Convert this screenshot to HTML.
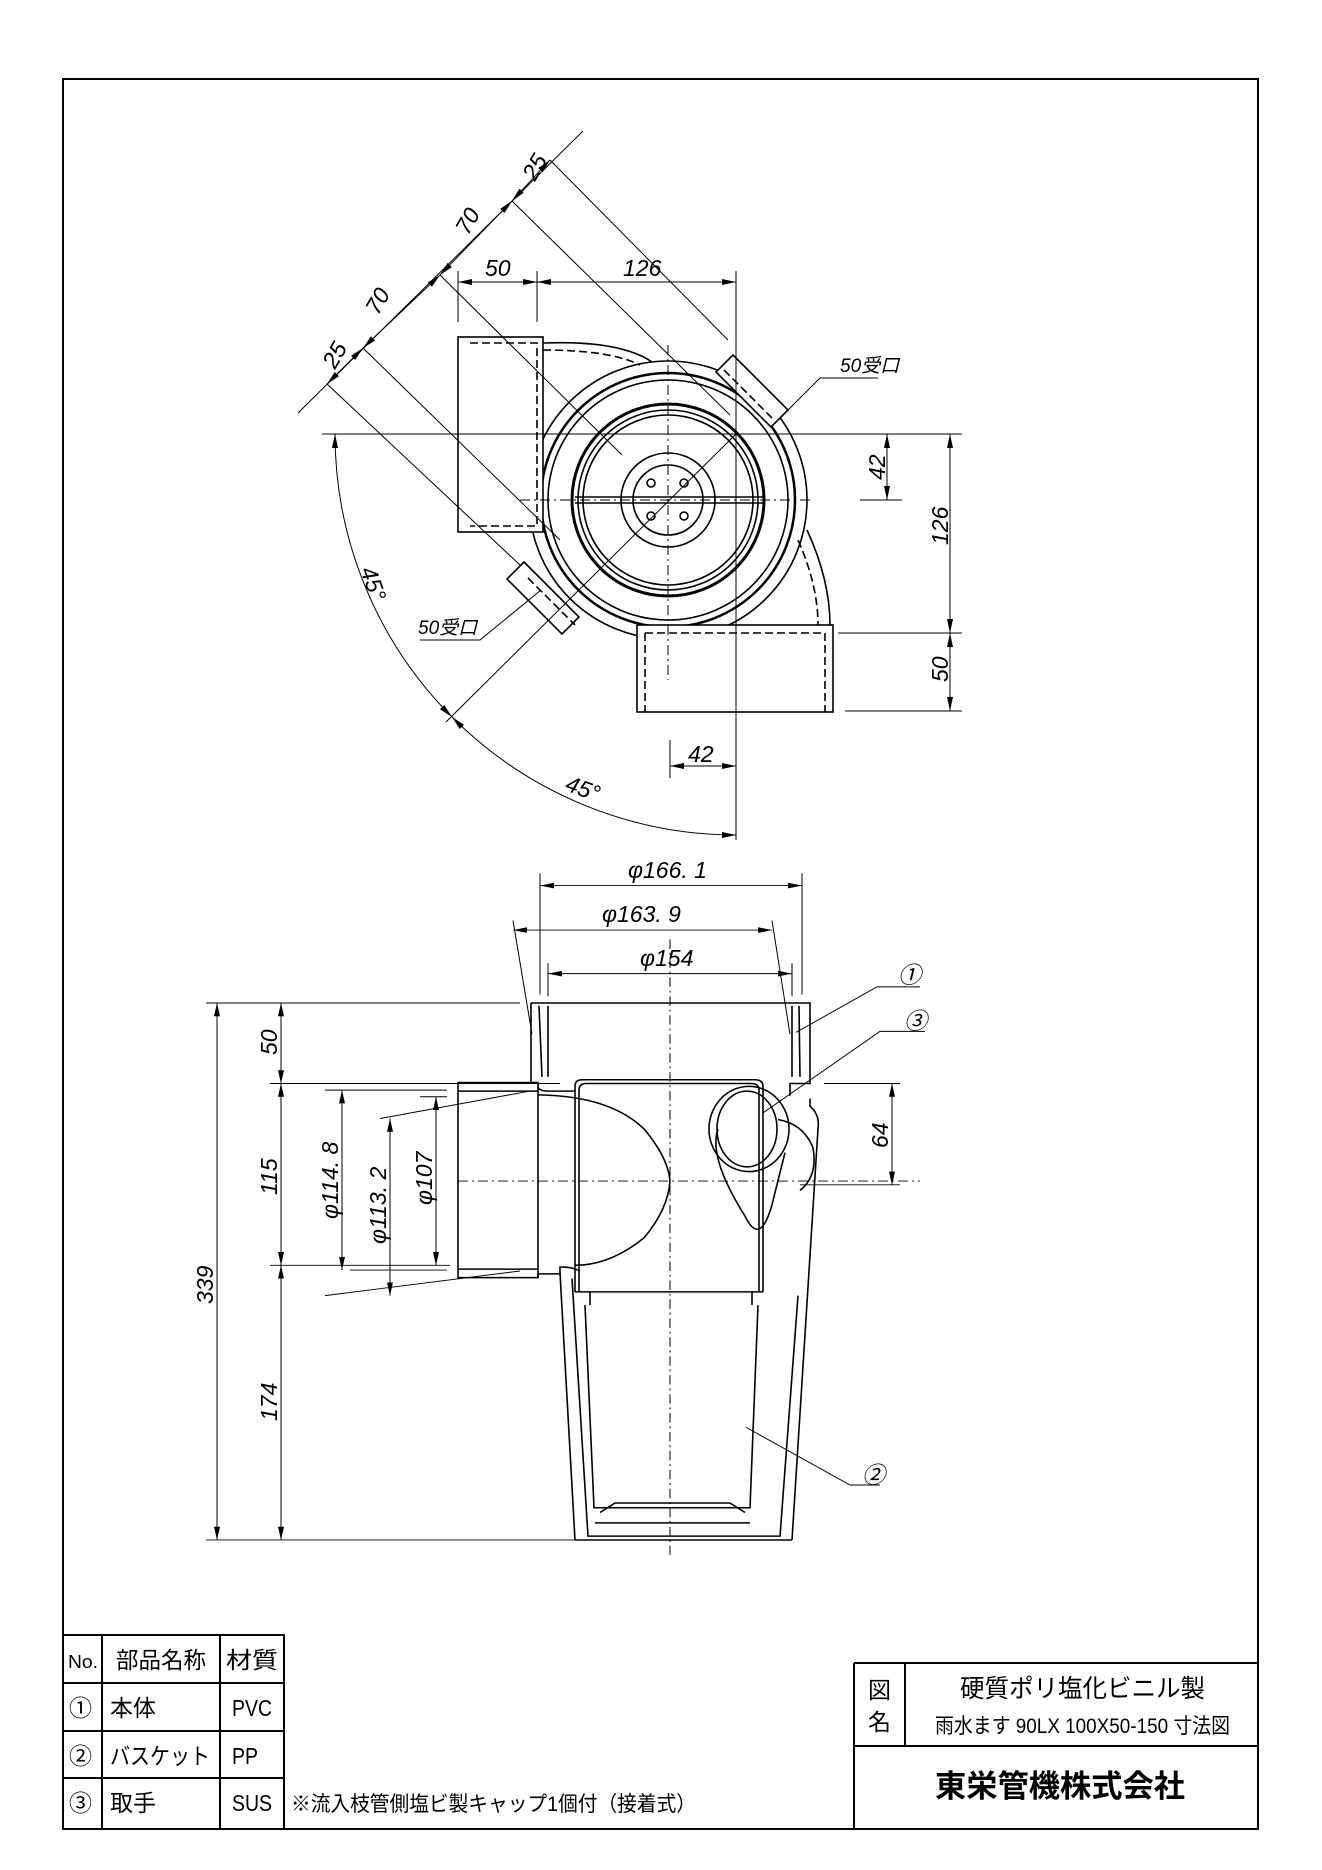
<!DOCTYPE html>
<html><head><meta charset="utf-8"><style>
html,body{margin:0;padding:0;background:#fff}
svg{display:block}
text{font-family:"Liberation Sans","Noto Sans CJK JP",sans-serif;fill:#000}
.d{font-style:italic;font-size:23px}
.t{font-size:23px}
</style></head><body>
<svg width="1322" height="1870" viewBox="0 0 1322 1870" xmlns="http://www.w3.org/2000/svg">
<defs>
<marker id="a" viewBox="0 0 14 6" refX="14" refY="3" markerWidth="14" markerHeight="6" orient="auto-start-reverse" markerUnits="userSpaceOnUse"><path d="M0,0L14,3L0,6z" fill="#000"/></marker>
</defs>
<g fill="none" stroke="#000">
<rect x="63" y="79" width="1195" height="1750" stroke-width="2"/>
<g stroke-width="2">
<path d="M63,1635H284V1829M102,1635V1829M220,1635V1829M63,1683H284M63,1731H284M63,1778H284"/>
<path d="M854,1663H1258M854,1663V1829M905,1663V1746M854,1746H1258"/>
</g>
<!-- ===== plan view ===== -->
<g stroke-width="1.6">
<circle cx="668" cy="500" r="139"/>
<circle cx="668" cy="500" r="127" stroke-width="2.5"/>
<circle cx="668" cy="500" r="120"/>
<circle cx="668" cy="500" r="96" stroke-width="3"/>
<circle cx="668" cy="500" r="90"/>
<circle cx="668" cy="500" r="85"/>
<circle cx="668" cy="500" r="47"/>
<circle cx="668" cy="500" r="35"/>
<circle cx="651" cy="483" r="4"/><circle cx="684" cy="483" r="4"/>
<circle cx="651" cy="516" r="4"/><circle cx="684" cy="516" r="4"/>
<path d="M575,497H763M575,503H763" stroke-width="1.5"/>
<rect x="458" y="337" width="85" height="195" fill="#fff"/>
<path d="M470,343H537V526H470" stroke-dasharray="8,4"/>
<path d="M543,343Q620,340 652,362" />
<path d="M543,350Q610,350 640,365" stroke-dasharray="8,4"/>
<rect x="637" y="625" width="196" height="87" fill="#fff"/>
<path d="M645,633V712M825,633V712M645,633H825" stroke-dasharray="8,4"/>
<path d="M807,530Q830,580 830,625"/>
<path d="M798,540Q818,585 818,625" stroke-dasharray="8,4"/>
<path d="M733,355L788,410L771,427L716,372z" fill="#fff"/>
<path d="M724,370L774,420" stroke-dasharray="8,4"/>
<path d="M524,562L579,617L562,634L507,579z" fill="#fff"/>
<path d="M528,578L575,625" stroke-dasharray="8,4"/>
</g>
<g stroke-width="1">
<path d="M668,345V680M520,500H810" stroke-dasharray="10,4,2,4"/>
<path d="M322,434H962M736,271V840M838,633H962M845,711H962M670,740V778"/>
<path d="M458,271V322M537,271V322"/>
<path d="M458,282H537" marker-start="url(#a)" marker-end="url(#a)"/>
<path d="M537,282H736" marker-start="url(#a)" marker-end="url(#a)"/>
<path d="M887,434V500" marker-start="url(#a)" marker-end="url(#a)"/>
<path d="M860,500H902"/>
<path d="M950,434V633" marker-start="url(#a)" marker-end="url(#a)"/>
<path d="M950,633V711" marker-start="url(#a)" marker-end="url(#a)"/>
<path d="M670,766H736" marker-start="url(#a)" marker-end="url(#a)"/>
<path d="M298,413L583,131"/>
<path d="M327,384L363,348" marker-start="url(#a)" marker-end="url(#a)"/>
<path d="M363,348L440,275" marker-start="url(#a)" marker-end="url(#a)"/>
<path d="M440,275L512,201" marker-start="url(#a)" marker-end="url(#a)"/>
<path d="M512,201L550,160" marker-start="url(#a)" marker-end="url(#a)"/>
<path d="M327,384L520,565M363,348L560,540M440,275L622,455M512,201L730,415M550,160L728,340"/>
<path d="M736,434L446,722"/>
<path d="M335,434A401,401 0 0,0 452,717" marker-start="url(#a)" marker-end="url(#a)"/>
<path d="M452,717A401,401 0 0,0 736,835" marker-start="url(#a)" marker-end="url(#a)"/>
<path d="M788,410L820,378H878M541,590L480,640H420"/>
</g>
<!-- ===== elevation ===== -->
<g transform="translate(0,1003) scale(1,0.947) translate(0,-1007)">
<g stroke-width="1.6">
<path d="M531,1007H810V1092H790V1105M531,1007V1092H538"/>
<path d="M538,1092V1096Q540,1100 548,1100H575"/>
<path d="M539,1010L542,1085M548,1010V1085M792,1010V1085M799,1010L800,1085"/>
<rect x="458" y="1091" width="80" height="206" fill="#fff"/>
<path d="M458,1100H525L538,1100M458,1288H538"/>
<path d="M538,1297V1293H560V1285M560,1286Q570,1285 580,1290"/>
<path d="M538,1104Q610,1105 644,1140Q668,1170 670,1195Q668,1225 644,1255Q610,1284 575,1284"/>
<path d="M560,1292L575,1574M810,1108V1116Q820,1125 818,1140L792,1574M575,1574H792"/>
<path d="M572,1298L588,1570H780L798,1316"/>
<path d="M575,1312V1095Q575,1088 582,1088H755Q763,1088 763,1095V1312"/>
<path d="M579,1312V1099Q579,1092 586,1092H751Q759,1092 759,1099V1312"/>
<path d="M575,1312H763M585,1326L594,1540H750L758,1326M590,1326V1312M752,1326V1312"/>
<path d="M600,1545L615,1535H730L745,1545M595,1556H750"/>
<ellipse cx="749" cy="1140" rx="40" ry="45"/>
<ellipse cx="747" cy="1140" rx="30" ry="40"/>
<path d="M778,1130Q804,1135 813,1160Q818,1190 800,1205"/>
<path d="M718,1140Q708,1170 745,1232Q760,1265 772,1220L785,1165"/>
</g>
<g stroke-width="1">
<path d="M670,940V1590M458,1195H920" stroke-dasharray="10,4,2,4"/>
<path d="M206,1007H520M270,1092H560M270,1284H450M325,1099H447M350,1289H447M420,1106H447M325,1316L520,1290M380,1129L530,1100M824,1092H900M800,1199H900M206,1574H575"/>
<path d="M217,1007V1574" marker-start="url(#a)" marker-end="url(#a)"/>
<path d="M281,1007V1092" marker-start="url(#a)" marker-end="url(#a)"/>
<path d="M281,1092V1284" marker-start="url(#a)" marker-end="url(#a)"/>
<path d="M281,1284V1574" marker-start="url(#a)" marker-end="url(#a)"/>
<path d="M342,1099V1289" marker-start="url(#a)" marker-end="url(#a)"/>
<path d="M390,1129V1316" marker-start="url(#a)" marker-end="url(#a)"/>
<path d="M436,1106V1284" marker-start="url(#a)" marker-end="url(#a)"/>
<path d="M892,1092V1199" marker-start="url(#a)" marker-end="url(#a)"/>
<path d="M540,870V998M802,870V998M513,920L532,1040M772,920L790,1040M548,965V1000M792,965V1000"/>
<path d="M540,883H802" marker-start="url(#a)" marker-end="url(#a)"/>
<path d="M513,930H772" marker-start="url(#a)" marker-end="url(#a)"/>
<path d="M548,976H792" marker-start="url(#a)" marker-end="url(#a)"/>
<path d="M796,1038L877,990H920M763,1123L880,1037H925M746,1455L850,1516H880"/>
</g>
</g>
</g>
<!-- plan dims text -->
<text class="d" x="485" y="276">50</text>
<text class="d" x="623" y="276">126</text>
<text class="d" transform="translate(378,316) rotate(-60)">70</text>
<text class="d" transform="translate(468,236) rotate(-60)">70</text>
<text class="d" transform="translate(335,370) rotate(-60)">25</text>
<text class="d" transform="translate(535,182) rotate(-60)">25</text>
<text class="d" transform="translate(885,480) rotate(-90)">42</text>
<text class="d" transform="translate(948,545) rotate(-90)">126</text>
<text class="d" transform="translate(948,682) rotate(-90)">50</text>
<text class="d" x="688" y="762">42</text>
<text class="d" transform="translate(360,570) rotate(70)">45°</text>
<text class="d" transform="translate(564,790) rotate(20)">45°</text>
<text class="d" style="font-size:19px" x="840" y="372">50受口</text>
<text class="d" style="font-size:19px" x="418" y="634">50受口</text>
<!-- elevation text -->
<text class="d" x="628" y="878">φ166. 1</text>
<text class="d" x="602" y="922">φ163. 9</text>
<text class="d" x="640" y="966">φ154</text>
<text class="d" transform="translate(213,1304) rotate(-90)">339</text>
<text class="d" transform="translate(277,1055) rotate(-90)">50</text>
<text class="d" transform="translate(277,1195) rotate(-90)">115</text>
<text class="d" transform="translate(277,1421) rotate(-90)">174</text>
<text class="d" transform="translate(338,1219) rotate(-90)">φ114. 8</text>
<text class="d" transform="translate(386,1244) rotate(-90)">φ113. 2</text>
<text class="d" transform="translate(432,1205) rotate(-90)">φ107</text>
<text class="d" transform="translate(888,1148) rotate(-90)">64</text>
<text class="d" x="898" y="983">①</text>
<text class="d" x="904" y="1029">③</text>
<text class="d" x="862" y="1483">②</text>
<!-- tables text -->
<text class="t" x="68" y="1668" style="font-size:18px" textLength="30" lengthAdjust="spacingAndGlyphs">No.</text>
<text class="t" x="116" y="1668" textLength="90" lengthAdjust="spacingAndGlyphs">部品名称</text>
<text class="t" x="226" y="1668" textLength="52" lengthAdjust="spacingAndGlyphs">材質</text>
<text class="t" x="69" y="1716">①</text><text class="t" x="110" y="1716">本体</text><text class="t" x="232" y="1716" textLength="40" lengthAdjust="spacingAndGlyphs">PVC</text>
<text class="t" x="69" y="1764">②</text><text class="t" x="110" y="1764" textLength="100" lengthAdjust="spacingAndGlyphs">バスケット</text><text class="t" x="232" y="1764" textLength="26" lengthAdjust="spacingAndGlyphs">PP</text>
<text class="t" x="69" y="1811">③</text><text class="t" x="110" y="1811">取手</text><text class="t" x="232" y="1811" textLength="40" lengthAdjust="spacingAndGlyphs">SUS</text>
<text class="t" x="291" y="1811" style="font-size:21px" textLength="405" lengthAdjust="spacingAndGlyphs">※流入枝管側塩ビ製キャップ1個付（接着式）</text>
<text class="t" x="868" y="1698">図</text><text class="t" x="868" y="1730">名</text>
<text class="t" x="960" y="1697" style="font-size:25px" textLength="245" lengthAdjust="spacingAndGlyphs">硬質ポリ塩化ビニル製</text>
<text class="t" x="935" y="1733" style="font-size:21px" textLength="295" lengthAdjust="spacingAndGlyphs">雨水ます 90LX 100X50-150 寸法図</text>
<text class="t" x="935" y="1797" style="font-size:31px;font-weight:bold" textLength="250" lengthAdjust="spacingAndGlyphs">東栄管機株式会社</text>
</svg>
</body></html>
